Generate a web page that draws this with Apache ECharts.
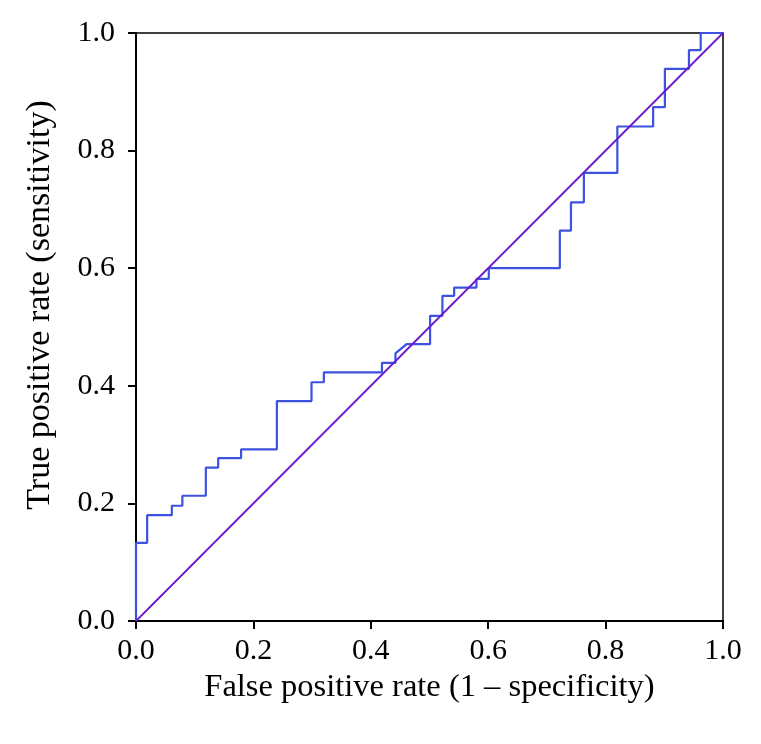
<!DOCTYPE html>
<html>
<head>
<meta charset="utf-8">
<script src="https://cdn.jsdelivr.net/npm/echarts@6/dist/echarts.min.js"></script>
<style>
html,body{margin:0;padding:0;background:#fff;}
#chart{width:761px;height:744px;}
</style>
</head>
<body>
<div id="chart"></div>
<script>
// ROC curve step points (false positive rate, true positive rate)
const fpr = [0, 0, 0.019, 0.019, 0.061, 0.061, 0.079, 0.079, 0.119, 0.119, 0.140, 0.140, 0.179, 0.179, 0.240, 0.240, 0.299, 0.299, 0.320, 0.320, 0.419, 0.419, 0.442, 0.442, 0.461, 0.501, 0.501, 0.522, 0.522, 0.542, 0.542, 0.580, 0.580, 0.601, 0.601, 0.722, 0.722, 0.741, 0.741, 0.763, 0.763, 0.820, 0.820, 0.881, 0.881, 0.901, 0.901, 0.942, 0.942, 0.962, 0.962, 1.0];
const tpr = [0, 0.133, 0.133, 0.180, 0.180, 0.196, 0.196, 0.213, 0.213, 0.261, 0.261, 0.277, 0.277, 0.292, 0.292, 0.374, 0.374, 0.406, 0.406, 0.423, 0.423, 0.439, 0.439, 0.455, 0.471, 0.471, 0.519, 0.519, 0.553, 0.553, 0.567, 0.567, 0.582, 0.582, 0.600, 0.600, 0.664, 0.664, 0.712, 0.712, 0.762, 0.762, 0.841, 0.841, 0.874, 0.874, 0.939, 0.939, 0.971, 0.971, 1.0, 1.0];
// Reference (chance) line
const refX = [0, 1];
const refY = [0, 1];
const xTicks = ['0.0', '0.2', '0.4', '0.6', '0.8', '1.0'];
const yTicks = ['0.0', '0.2', '0.4', '0.6', '0.8', '1.0'];
const xTitle = 'False positive rate (1 \u2013 specificity)';
const yTitle = 'True positive rate (sensitivity)';

const font = '"Liberation Serif", "DejaVu Serif", serif';
const chart = echarts.init(document.getElementById('chart'), null, {renderer: 'canvas'});
const rocData = fpr.map((x, i) => [x, tpr[i]]);
const refData = refX.map((x, i) => [x, refY[i]]);
const fmt = (list) => (v) => list[Math.round(v * 5)];

chart.setOption({
  animation: false,
  backgroundColor: '#ffffff',
  grid: {left: 136, right: 38, top: 33, bottom: 123, show: true, borderColor: '#000', borderWidth: 1.5, backgroundColor: 'transparent'},
  xAxis: {
    type: 'value', min: 0, max: 1, interval: 0.2,
    name: xTitle, nameLocation: 'middle', nameGap: 42,
    nameTextStyle: {fontFamily: font, fontSize: 32.5, color: '#000'},
    axisLine: {show: true, onZero: false, lineStyle: {color: '#000', width: 2}},
    axisTick: {show: true, inside: false, length: 8, lineStyle: {color: '#000', width: 2}},
    axisLabel: {fontFamily: font, fontSize: 30, color: '#000', margin: 15, formatter: fmt(xTicks)},
    splitLine: {show: false}
  },
  yAxis: {
    type: 'value', min: 0, max: 1, interval: 0.2,
    name: yTitle, nameLocation: 'middle', nameGap: 79, nameRotate: 90,
    nameTextStyle: {fontFamily: font, fontSize: 34, color: '#000', padding: [0, 0, 0, 44]},
    axisLine: {show: true, onZero: false, lineStyle: {color: '#000', width: 2}},
    axisTick: {show: true, inside: false, length: 8, lineStyle: {color: '#000', width: 2}},
    axisLabel: {fontFamily: font, fontSize: 30, color: '#000', margin: 21, formatter: fmt(yTicks)},
    splitLine: {show: false}
  },
  series: [
    {
      type: 'line', data: refData, showSymbol: false, symbol: 'none',
      lineStyle: {color: '#6a1bd0', width: 1.8}, z: 3
    },
    {
      type: 'line', data: rocData, showSymbol: false, symbol: 'none',
      lineStyle: {color: '#3d52df', width: 2.2}, z: 2
    }
  ]
});
</script>
</body>
</html>
